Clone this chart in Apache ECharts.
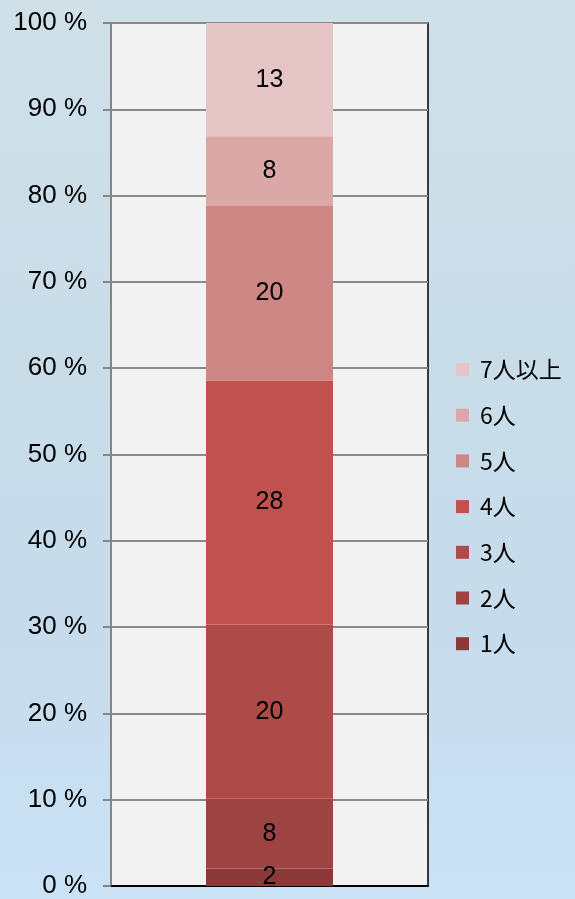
<!DOCTYPE html>
<html>
<head>
<meta charset="utf-8">
<script src="https://cdn.jsdelivr.net/npm/echarts@6/dist/echarts.min.js"></script>
<style>
html,body{margin:0;padding:0;width:575px;height:899px;overflow:hidden;}
body{background:linear-gradient(180deg,#cfe0e8 0%,#c9dde9 40%,#c6dcec 70%,#cbe2f6 100%);}
#c{width:575px;height:899px;}
</style>
</head>
<body>
<div id="c"></div>
<script>
var categories = [''];
var seriesNames = ['1人','2人','3人','4人','5人','6人','7人以上'];
var seriesValues = [2, 8, 20, 28, 20, 8, 13];
var seriesColors = ['#8c3a39','#9d4341','#ae4b48','#c0514e','#cd8785','#dba8a7','#e4c4c4'];
var yTicks = [0,10,20,30,40,50,60,70,80,90,100];

var total = seriesValues.reduce(function(a,b){return a+b;},0);
var series = seriesNames.map(function(n,i){
  return {
    name: n,
    type: 'bar',
    stack: 'all',
    barWidth: 127,
    itemStyle: {color: seriesColors[i]},
    label: {
      show: true,
      position: 'inside',
      color: '#000',
      fontSize: 25,
      fontFamily: 'Liberation Sans, Arial, sans-serif',
      formatter: function(){ return String(seriesValues[i]); }
    },
    data: [seriesValues[i] / total * 100]
  };
});

var chart = echarts.init(document.getElementById('c'));
chart.setOption({
  animation: false,
  grid: {left: 111, right: 147, top: 23, bottom: 10, show: true,
         backgroundColor: '#f2f2f2', borderColor: '#000', borderWidth: 1.5},
  legend: {
    orient: 'vertical',
    left: 451, top: 353,
    itemWidth: 13, itemHeight: 13, itemGap: 22.7,
    icon: 'rect',
    textStyle: {fontSize: 23, color: '#000',
                fontFamily: 'Noto Sans CJK JP, sans-serif', padding: [0,0,0,6]},
    data: seriesNames.slice().reverse()
  },
  xAxis: {
    type: 'category', data: categories,
    axisLine: {show: true, lineStyle: {color: '#000', width: 2}},
    axisTick: {show: false}, axisLabel: {show: false}
  },
  yAxis: {
    type: 'value', min: yTicks[0], max: yTicks[yTicks.length-1], interval: 10,
    axisLine: {show: true, lineStyle: {color: '#868686', width: 2}},
    axisTick: {show: true, length: 8, lineStyle: {color: '#868686', width: 2}},
    axisLabel: {formatter: '{value} %', color: '#000', fontSize: 26, margin: 24,
                fontFamily: 'Liberation Sans, Arial, sans-serif'},
    splitLine: {show: true, lineStyle: {color: '#8a8a8a', width: 2}}
  },
  series: series
});
</script>
</body>
</html>
